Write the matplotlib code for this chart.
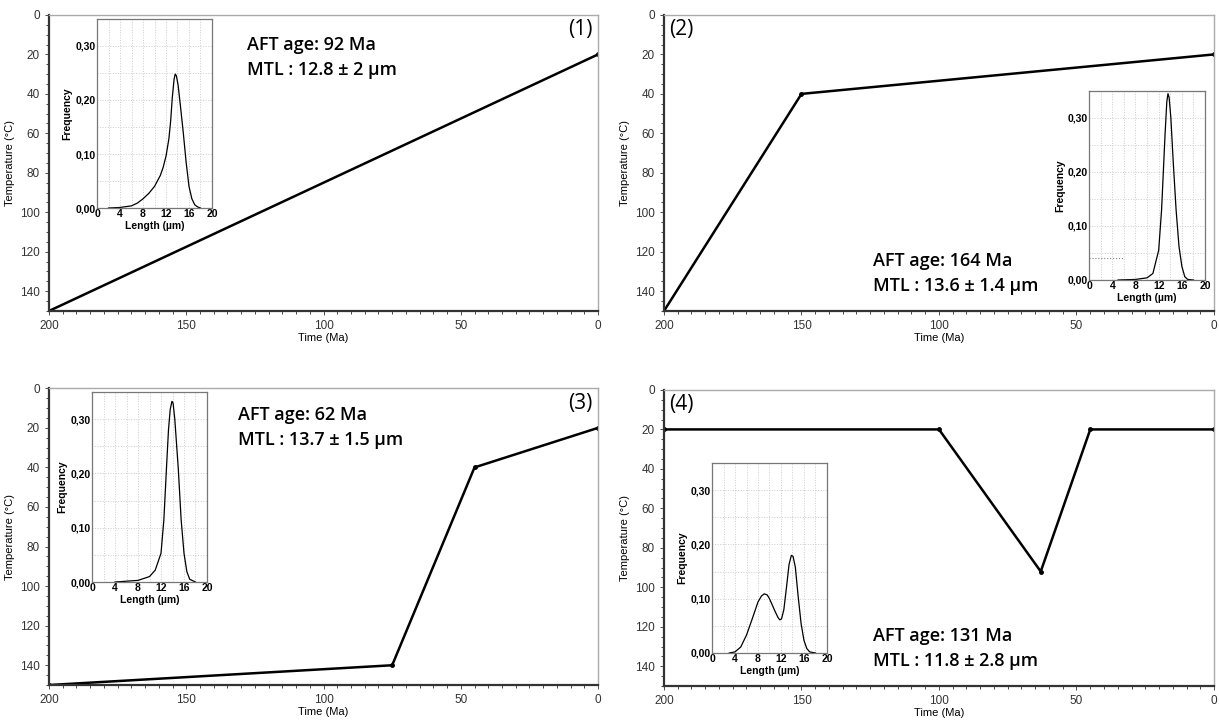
import matplotlib
matplotlib.use("Agg")
import matplotlib.pyplot as plt

plt.rcParams['font.family'] = ['Liberation Sans', 'DejaVu Sans']

# thermal histories: time (Ma) and temperature (°C) at each vertex
time1 = [200, 0]
temp1 = [150, 20]
time2 = [200, 150, 0]
temp2 = [150, 40, 20]
time3 = [200, 75, 45, 0]
temp3 = [150, 140, 40, 20]
time4 = [200, 100, 63, 45, 0]
temp4 = [20, 20, 92, 20, 20]

# predicted track length distributions
len1 = [2, 4, 6, 7, 8, 9, 10, 11, 11.5, 12, 12.5, 12.8, 13.1, 13.4, 13.6, 13.8, 14.1, 14.5, 15, 15.5, 16, 16.5, 17, 17.5, 18]
freq1 = [0, 0.001, 0.004, 0.009, 0.017, 0.027, 0.04, 0.06, 0.075, 0.096, 0.128, 0.16, 0.205, 0.238, 0.248, 0.245, 0.228, 0.19, 0.14, 0.085, 0.04, 0.017, 0.006, 0.002, 0]
len2 = [5, 8, 10, 11, 12, 12.5, 12.8, 13.1, 13.4, 13.6, 13.8, 14.1, 14.5, 15, 15.5, 16, 16.5, 17, 18]
freq2 = [0, 0.001, 0.004, 0.012, 0.055, 0.13, 0.2, 0.27, 0.33, 0.345, 0.338, 0.3, 0.22, 0.13, 0.062, 0.025, 0.006, 0.001, 0]
len3 = [4, 8, 10, 11, 12, 12.5, 13, 13.3, 13.6, 13.9, 14.1, 14.4, 14.7, 15, 15.5, 16, 16.5, 17, 18]
freq3 = [0, 0.003, 0.01, 0.022, 0.053, 0.115, 0.22, 0.28, 0.318, 0.333, 0.33, 0.3, 0.255, 0.21, 0.115, 0.053, 0.019, 0.005, 0]
len4 = [3, 4, 5, 6, 7, 8, 8.6, 9.1, 9.6, 10, 10.5, 11, 11.5, 11.8, 12.1, 12.5, 13, 13.4, 13.8, 14.1, 14.5, 15, 15.5, 16, 16.5, 17, 18]
freq4 = [0, 0.002, 0.011, 0.033, 0.063, 0.094, 0.105, 0.109, 0.107, 0.1, 0.088, 0.076, 0.065, 0.061, 0.063, 0.08, 0.125, 0.163, 0.18, 0.178, 0.158, 0.103, 0.054, 0.023, 0.008, 0.002, 0]

ages = ["AFT age: 92 Ma", "AFT age: 164 Ma", "AFT age: 62 Ma", "AFT age: 131 Ma"]
mtls = ["MTL : 12.8 ± 2 µm", "MTL : 13.6 ± 1.4 µm", "MTL : 13.7 ± 1.5 µm", "MTL : 11.8 ± 2.8 µm"]
tags = ["(1)", "(2)", "(3)", "(4)"]

fig = plt.figure(figsize=(12.19, 7.22), dpi=100)

main_pos = [[0.0402, 0.5693, 0.4504, 0.410],
            [0.5447, 0.5693, 0.4512, 0.410],
            [0.0402, 0.0512, 0.4504, 0.411],
            [0.5447, 0.0499, 0.4512, 0.410]]
inset_pos = [[0.0796, 0.7119, 0.0943, 0.2618],
             [0.8934, 0.6122, 0.0952, 0.2618],
             [0.0755, 0.1939, 0.0943, 0.2630],
             [0.5841, 0.0956, 0.0943, 0.2630]]
# text anchors in axes fraction: (x, y of first line), tag position
text_pos = [(0.36, 0.90), (0.38, 0.17), (0.345, 0.91), (0.38, 0.17)]
tag_pos = [(0.99, 0.95), (0.01, 0.95), (0.99, 0.95), (0.01, 0.95)]
tag_ha = ["right", "left", "right", "left"]

times = [time1, time2, time3, time4]
temps = [temp1, temp2, temp3, temp4]
lens = [len1, len2, len3, len4]
freqs = [freq1, freq2, freq3, freq4]

for i in range(4):
    ax = fig.add_axes(main_pos[i])
    ax.plot(times[i], temps[i], color='black', lw=1.8, marker='o', ms=2.5)
    ax.set_xlim(200, 0)
    ax.set_ylim(150, 0)
    ax.set_xticks([200, 150, 100, 50, 0])
    ax.set_yticks([0, 20, 40, 60, 80, 100, 120, 140])
    ax.set_xticks(range(0, 201, 5), minor=True)
    ax.set_yticks(range(0, 151, 5), minor=True)
    ax.tick_params(labelsize=8.5, colors='#333333', length=3, width=0.6)
    ax.tick_params(which='minor', length=2, width=0.5)
    ax.set_xlabel("Time (Ma)", fontsize=8, labelpad=1)
    ax.set_ylabel("Temperature (°C)", fontsize=8, labelpad=4)
    for s in ['top', 'right']:
        ax.spines[s].set_color('#aaaaaa')
        ax.spines[s].set_linewidth(1.0)
    for s in ['left', 'bottom']:
        ax.spines[s].set_color('#333333')
        ax.spines[s].set_linewidth(1.6)

    tx, ty = text_pos[i]
    ax.text(tx, ty, ages[i], transform=ax.transAxes, fontsize=13,
            fontweight='semibold', family=['Open Sans', 'DejaVu Sans'], va='center')
    ax.text(tx, ty - 0.085, mtls[i], transform=ax.transAxes, fontsize=13,
            fontweight='semibold', family=['Open Sans', 'DejaVu Sans'], va='center')
    ax.text(tag_pos[i][0], tag_pos[i][1], tags[i], transform=ax.transAxes,
            fontsize=15, family=['Open Sans', 'DejaVu Sans'], ha=tag_ha[i], va='center')

    ins = fig.add_axes(inset_pos[i])
    ins.plot(lens[i], freqs[i], color='black', lw=0.9)
    if i == 1:
        ins.plot([0, 6], [0.04, 0.04], color='#888888', lw=0.8, ls=':')
    ins.set_xlim(0, 20)
    ins.set_ylim(0, 0.35)
    ins.set_xticks([0, 4, 8, 12, 16, 20])
    ins.set_yticks([0, 0.1, 0.2, 0.3])
    ins.set_yticklabels(["0,00", "0,10", "0,20", "0,30"])
    ins.set_xticks(range(0, 21, 2), minor=True)
    ins.set_yticks([0.05, 0.15, 0.25], minor=True)
    ins.grid(True, which='both', color='#cccccc', ls=':', lw=0.7)
    ins.tick_params(which='both', length=0, labelsize=7.5, pad=1)
    for lab in ins.get_xticklabels() + ins.get_yticklabels():
        lab.set_fontweight('bold')
    ins.set_xlabel("Length (µm)", fontsize=7.5, fontweight='bold', labelpad=1)
    ins.set_ylabel("Frequency", fontsize=7.5, fontweight='bold', labelpad=2)
    for s in ins.spines.values():
        s.set_color('#777777')
        s.set_linewidth(0.9)

fig.savefig("out.png", dpi=100)
